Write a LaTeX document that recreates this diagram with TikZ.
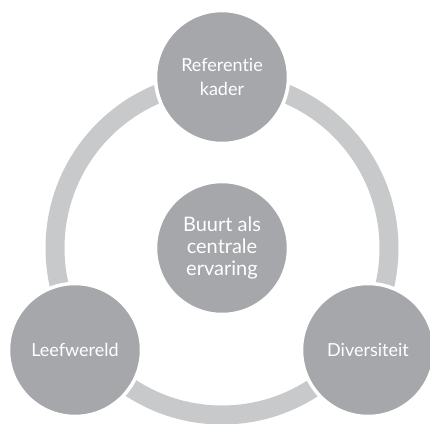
\documentclass[tikz,border=0pt]{standalone}
\usepackage{fontspec}
\setmainfont{Lato}[Ligatures={NoCommon}]
\usepackage{tikz}
\usetikzlibrary{positioning}
\definecolor{circgrey}{RGB}{166,167,170}
\definecolor{ringgrey}{RGB}{200,201,203}
\tikzstyle{bol}=[circle, draw=white, line width=3.5pt, fill=circgrey, minimum size=133pt, inner sep=0pt, text=white, align=center, font=\fontsize{18}{24}\selectfont]
\tikzstyle{kern}=[bol, font=\fontsize{20}{22}\selectfont]
\tikzstyle{ring}=[draw=ringgrey, line width=19pt]

\begin{document}
\begin{tikzpicture}[x=1pt,y=1pt]
\useasboundingbox (0,0) rectangle (430,-423);
  \node[kern] at (222,-248) (centre) {Buurt als\\centrale\\ervaring};
\draw[ring] (centre.center) circle (167);

  \node[bol, above of = centre, node distance = 171pt] (kader) {Referentie\\kader};
  \node[bol, below of = centre, node distance = 102pt, xshift = -147pt] (leef) {Leefwereld};
  \node[bol, below of = centre, node distance = 102pt, xshift = 146pt] (divers) {Diversiteit};
\end{tikzpicture}
\end{document}
